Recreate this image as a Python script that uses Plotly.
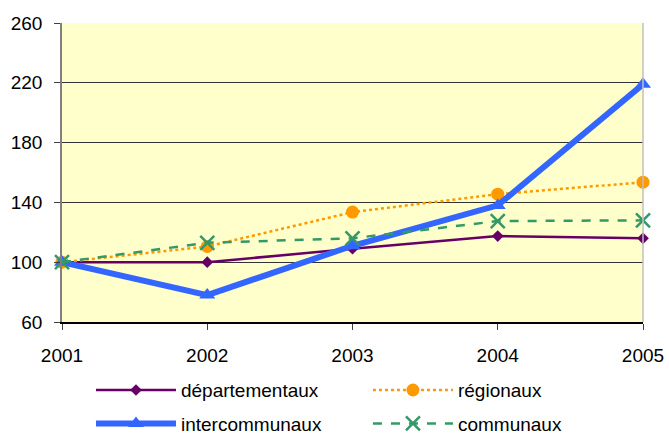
import plotly.graph_objects as go

years = [2001, 2002, 2003, 2004, 2005]
departementaux = [100, 100, 109, 117.5, 116]
regionaux = [100, 110.5, 133.5, 145.5, 153.5]
intercommunaux = [100, 78, 111, 138, 219]
communaux = [100, 113, 116, 127.5, 128]

fig = go.Figure()

fig.add_trace(go.Scatter(
    x=years, y=departementaux, name="départementaux", mode="lines+markers",
    line=dict(color="#660066", width=2.5),
    marker=dict(symbol="diamond", size=9, color="#660066"),
    legend="legend",
))
fig.add_trace(go.Scatter(
    x=years, y=regionaux, name="régionaux", mode="lines+markers",
    line=dict(color="#FF9900", width=2.5, dash="dot"),
    marker=dict(symbol="circle", size=13, color="#FF9900"),
    legend="legend2",
))
fig.add_trace(go.Scatter(
    x=years, y=intercommunaux, name="intercommunaux", mode="lines+markers",
    line=dict(color="#3366FF", width=6),
    marker=dict(symbol="triangle-up", size=14, color="#3366FF"),
    legend="legend3",
))
fig.add_trace(go.Scatter(
    x=years, y=communaux, name="communaux", mode="lines+markers",
    line=dict(color="#339966", width=2.5, dash="dash"),
    marker=dict(symbol="x-thin-open", size=14, color="#339966", line=dict(width=2.5, color="#339966")),
    legend="legend4",
))

fig.update_traces(cliponaxis=False)

# right border of plot area
fig.add_shape(type="line", xref="x domain", yref="y domain", x0=1, x1=1, y0=0, y1=1,
              line=dict(color="#C0C0C0", width=1.5))

leg = dict(xref="container", yref="container", xanchor="left", yanchor="middle",
           itemwidth=80, font=dict(size=19), bgcolor="rgba(0,0,0,0)")

fig.update_layout(
    width=669, height=434,
    margin=dict(l=62, r=26, t=23, b=112, autoexpand=False),
    plot_bgcolor="#FFFFCC",
    paper_bgcolor="white",
    font=dict(family="Liberation Sans", size=19, color="black"),
    showlegend=True,
    legend=dict(leg, x=0.136, y=0.101),
    legend2=dict(leg, x=0.55, y=0.101),
    legend3=dict(leg, x=0.136, y=0.024),
    legend4=dict(leg, x=0.55, y=0.024),
    xaxis=dict(
        range=[2001, 2005], tickvals=years, ticktext=[str(y) for y in years],
        showgrid=False, zeroline=False,
        showline=True, linecolor="black", linewidth=1.5,
        ticks="outside", ticklen=6, tickcolor="#404040",
        ticklabelstandoff=9,
    ),
    yaxis=dict(
        range=[60, 260], tickvals=[60, 100, 140, 180, 220, 260],
        showgrid=True, gridcolor="#333333", gridwidth=1, zeroline=False,
        showline=True, linecolor="#808080", linewidth=1.5,
        ticks="outside", ticklen=6, tickcolor="#404040",
        ticklabelstandoff=8,
    ),
)

fig.write_html(
    "out.html",
    config={"displayModeBar": False},
    post_script="document.body.style.margin='0';document.body.style.overflow='hidden';",
)
